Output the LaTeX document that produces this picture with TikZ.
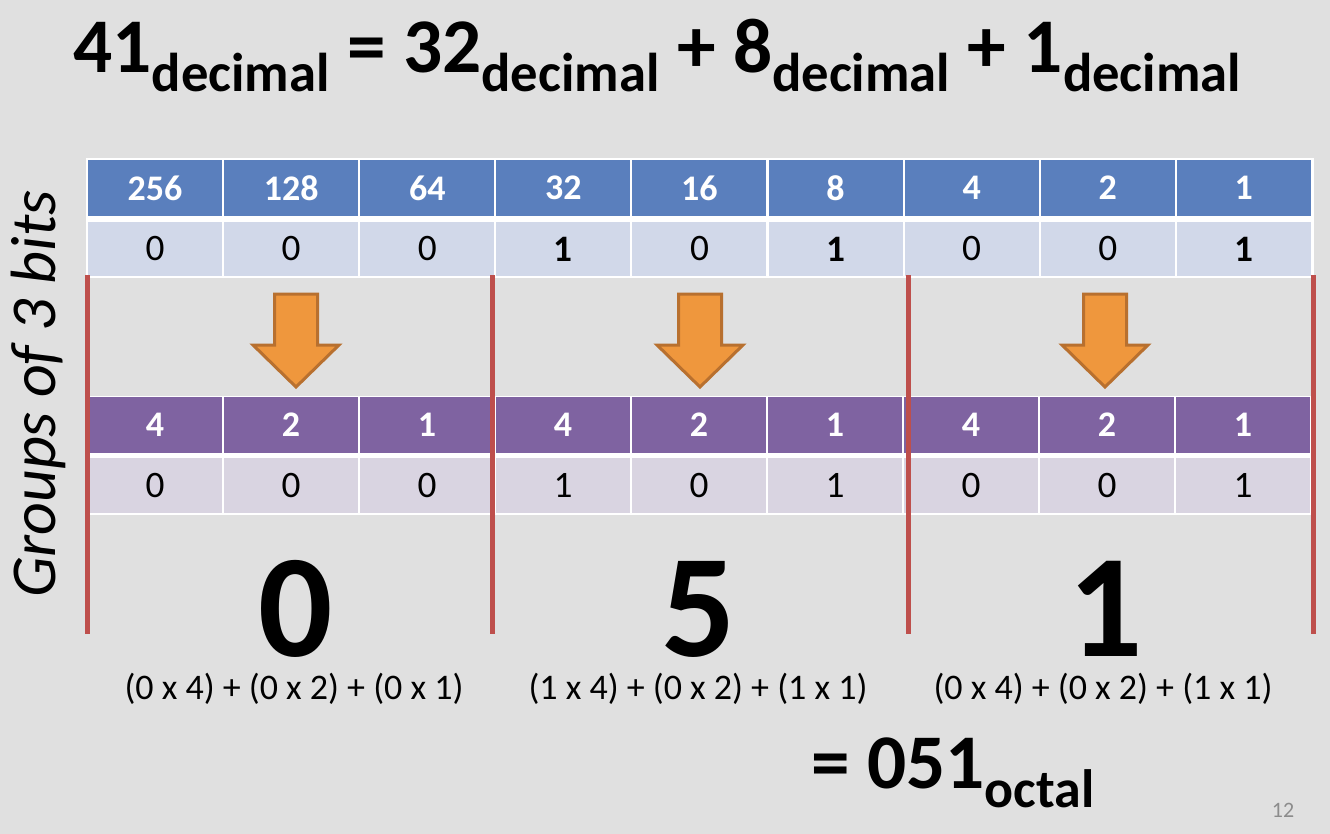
\documentclass[tikz,border=0pt]{standalone}
\usepackage{fontspec}
\setmainfont{Carlito}
\definecolor{bgc}{HTML}{E0E0E0}
\definecolor{bluehead}{HTML}{5A7FBD}
\definecolor{bluelight}{HTML}{D1D8E9}
\definecolor{purphead}{HTML}{7F63A1}
\definecolor{purplight}{HTML}{D9D4E1}
\definecolor{redline}{HTML}{BE4F4C}
\definecolor{orfill}{HTML}{EF973D}
\definecolor{ordraw}{HTML}{B8702F}
\definecolor{pgnum}{HTML}{8C8C8C}
\newcommand\dsub[1]{\raisebox{-14.25pt}{\fontsize{41}{41}\selectfont #1}}
\begin{document}
\begin{tikzpicture}[x=0.75pt,y=-0.75pt,
  cell/.style={inner sep=0pt, minimum width=100.5pt, anchor=center},
  bhead/.style={cell, fill=bluehead, minimum height=42pt, text=white, font=\fontsize{27}{27}\selectfont\bfseries},
  bval/.style={cell, fill=bluelight, minimum height=40.5pt, text=black, font=\fontsize{28}{28}\selectfont},
  phead/.style={cell, fill=purphead, minimum height=42pt, text=white, font=\fontsize{27}{27}\selectfont\bfseries},
  pval/.style={cell, fill=purplight, minimum height=41.25pt, text=black, font=\fontsize{28}{28}\selectfont},
  divider/.style={draw=redline, line width=3.75pt},
  blockarrow/.style={fill=orfill, draw=ordraw, line width=2.25pt, line join=miter},
  bigdig/.style={inner sep=0pt, anchor=base, font=\fontsize{110}{110}\selectfont\bfseries},
  formula/.style={inner sep=0pt, anchor=base, font=\fontsize{27}{27}\selectfont}
]
\fill[bgc] (0,0) rectangle (1330,834);
\useasboundingbox (0,0) rectangle (1330,834);

% title
\node[anchor=base west, inner sep=0pt] (title) at (73,73)
  {\fontsize{58}{58}\selectfont\bfseries 41\dsub{decimal} = 32\dsub{decimal} + 8\dsub{decimal} + 1\dsub{decimal}};

% top table
\fill[white] (86,158.5) rectangle (1313.5,278);
\foreach \v [count=\i from 0] in {256,128,64,32,16,8,4,2,1}
  \node[bhead] (h\i) at ({87+136.1*(\i+0.5)},188) {\v};
\foreach \v [count=\i from 0] in {0,0,0,\textbf{1},0,\textbf{1},0,0,\textbf{1}}
  \node[bval] (v\i) at ({87+136.1*(\i+0.5)},249) {\v};

% purple table
\fill[white] (86,395.5) rectangle (1311.5,515);
\foreach \v [count=\i from 0] in {4,2,1,4,2,1,4,2,1}
  \node[phead] (p\i) at ({87+136.0*(\i+0.5)},425) {\v};
\foreach \v [count=\i from 0] in {0,0,0,1,0,1,0,0,1}
  \node[pval] (q\i) at ({87+136.0*(\i+0.5)},485.5) {\v};

% arrows
\foreach \c in {296,700,1105}
  \draw[blockarrow] ({\c-21.5},294) -- ({\c+21.5},294) -- ({\c+21.5},345) -- ({\c+43},345)
    -- (\c,387) -- ({\c-43},345) -- ({\c-21.5},345) -- cycle;

% red dividers
\foreach \x in {87,492,908,1313}
  \draw[divider] (\x,275) -- (\x,634);

% rotated label
\node[rotate=90, anchor=base, inner sep=0pt] (grp) at (55,394)
  {\fontsize{48}{48}\selectfont\itshape Groups of 3 bits};

% big digits
\node[bigdig] (d0) at (296,656) {0};
\node[bigdig] (d1) at (699,656) {5};
\node[bigdig] (d2) at (1106,656) {1};

% formulas
\node[formula] (f0) at (294,699) {(0 x 4) + (0 x 2) + (0 x 1)};
\node[formula] (f1) at (698,699) {(1 x 4) + (0 x 2) + (1 x 1)};
\node[formula] (f2) at (1103,699) {(0 x 4) + (0 x 2) + (1 x 1)};

% result
\node[anchor=base west, inner sep=0pt] (res) at (811,788)
  {\fontsize{58}{58}\selectfont\bfseries = 051\raisebox{-14.25pt}{\fontsize{40.5}{40.5}\selectfont octal}};

% page number
\node[anchor=base, inner sep=0pt, text=pgnum] (pg) at (1283,817) {\fontsize{16.5}{16.5}\selectfont 12};
\end{tikzpicture}
\end{document}
